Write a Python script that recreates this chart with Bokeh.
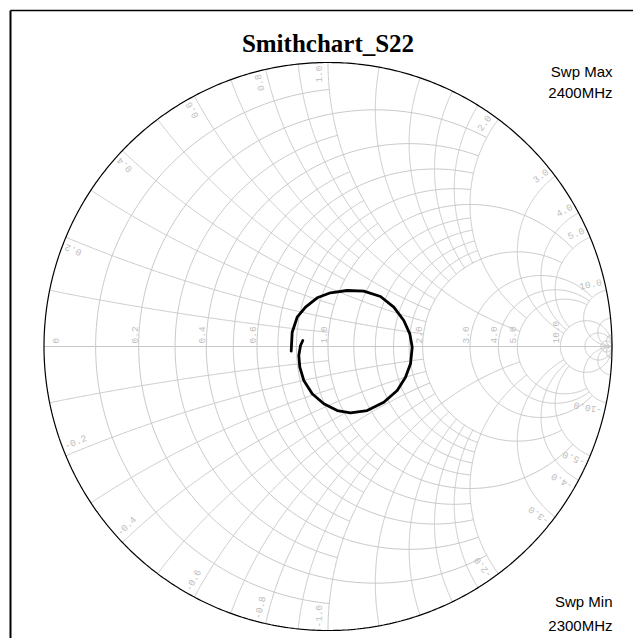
import numpy as np
from bokeh.plotting import figure
from bokeh.models import Range1d, ColumnDataSource
from bokeh.core.properties import value
from bokeh.embed import file_html
from bokeh.resources import INLINE

# ---------------- data (reflection coefficient) ----------------
title_text = "Smithchart_S22"
sweep_max = "2400MHz"
sweep_min = "2300MHz"

s22_re = [-0.1296, -0.1261, -0.1085, -0.0792, -0.0380, 0.0088, 0.0676, 0.1261, 0.1849,
          0.2317, 0.2669, 0.2880, 0.2965, 0.2905, 0.2729, 0.2437, 0.1965, 0.1380,
          0.0792, 0.0324, -0.0148, -0.0556, -0.0852, -0.0993, -0.1028, -0.0968, -0.0887]
s22_im = [-0.0165, 0.0504, 0.1032, 0.1384, 0.1715, 0.1891, 0.1972, 0.1947, 0.1761,
          0.1384, 0.0915, 0.0447, -0.0025, -0.0609, -0.1085, -0.1549, -0.1961, -0.2254,
          -0.2335, -0.2254, -0.2018, -0.1666, -0.1197, -0.0729, -0.0317, 0.0035, 0.0211]

# grid: resistance circles and reactance arcs, with their extent
r_fine = [0.1, 0.3, 0.5, 0.7, 0.9]                     # up to |x| = 1
r_medium = [0.2, 0.4, 0.6, 0.8, 1.2, 1.4, 1.6, 1.8]    # up to |x| = 2
r_major = [1.0, 2.0]                                   # up to |x| = 5
r_high = [3.0, 4.0, 5.0]                               # up to |x| = 10
r_top = [10.0, 20.0, 50.0]                             # full
x_fine = [0.1, 0.3, 0.5, 0.7, 0.9]                     # up to r = 1
x_medium = [0.2, 0.4, 0.6, 0.8, 1.2, 1.4, 1.6, 1.8]    # up to r = 2
x_major = [1.0, 2.0]                                   # up to r = 5
x_high = [3.0, 4.0, 5.0]                               # up to r = 10
x_top = [10.0, 20.0, 50.0]                             # full

axis_labels = [0.0, 0.2, 0.4, 0.6, 1.0, 2.0, 3.0, 4.0, 5.0, 10.0]
rim_labels = [0.2, 0.4, 0.6, 0.8, 1.0, 2.0, 3.0, 4.0, 5.0, 10.0]

# ---------------- layout ----------------
W, H = 633, 638
CX, CY, RAD = 327.5, 346.0, 284.0      # chart centre / radius in page pixels


def dx(px):
    return (px - CX) / RAD


def dy(py):
    return (CY - py) / RAD


p = figure(width=W, height=H, output_backend="svg", toolbar_location=None,
           x_range=Range1d(dx(0), dx(W)), y_range=Range1d(dy(H), dy(0)),
           x_axis_type=None, y_axis_type=None, min_border=0,
           background_fill_color="white", border_fill_color="white")
p.outline_line_color = None
p.xgrid.visible = False
p.ygrid.visible = False


def gamma(z):
    return (z - 1) / (z + 1)


def r_arc(r, x1, x2, n=300):
    a = np.linspace(np.arctan2(x1, r + 1), np.arctan2(x2, r + 1), n)
    a = np.clip(a, -np.pi / 2 + 1e-7, np.pi / 2 - 1e-7)
    g = gamma(r + 1j * (r + 1) * np.tan(a))
    return g.real, g.imag


def x_arc(xv, r1, r2, n=300):
    a = np.linspace(np.arctan2(xv, r1 + 1), np.arctan2(xv, r2 + 1), n)
    small = np.abs(a) < 1e-7
    a[small] = np.sign(xv) * 1e-7
    rp1 = xv / np.tan(a)
    g = gamma((rp1 - 1) + 1j * xv)
    return g.real, g.imag


xs, ys = [], []


def add(arc):
    xs.append(list(arc[0]))
    ys.append(list(arc[1]))


INF = np.inf
for r in r_fine:
    add(r_arc(r, -1.0, 1.0))
for r in r_medium:
    add(r_arc(r, -2.0, 2.0))
for r in r_major:
    add(r_arc(r, -5.0, 5.0))
for r in r_high:
    add(r_arc(r, -10.0, 10.0))
for r in r_top:
    add(r_arc(r, -INF, INF))
for xv in x_fine:
    add(x_arc(xv, 0, 1.0)); add(x_arc(-xv, 0, 1.0))
for xv in x_medium:
    add(x_arc(xv, 0, 2.0)); add(x_arc(-xv, 0, 2.0))
for xv in x_major:
    add(x_arc(xv, 0, 5.0)); add(x_arc(-xv, 0, 5.0))
for xv in x_high:
    add(x_arc(xv, 0, 10.0)); add(x_arc(-xv, 0, 10.0))
for xv in x_top:
    add(x_arc(xv, 0, INF)); add(x_arc(-xv, 0, INF))
# real axis
xs.append([-1.0, 1.0]); ys.append([0.0, 0.0])

GRID = "#c8c8c8"
LABEL = "#bdbdbd"
p.multi_line(xs, ys, line_color=GRID, line_width=1)

# outer circle
ox, oy = r_arc(0.0, -INF, INF, 600)
p.line(list(ox) + [ox[0]], list(oy) + [oy[0]], line_color="black", line_width=1.2)

# axis labels
ax_x, ax_t, ax_off = [], [], []
for v in axis_labels:
    ax_x.append(gamma(v + 0j).real)
    ax_t.append("0" if v == 0 else f"{v:.1f}")
    ax_off.append(15 if v == 0 else -1)
p.text(x=ax_x, y=[0.0] * len(ax_x), text=ax_t, angle=np.pi / 2, x_offset=ax_off, y_offset=-3,
       text_align="left", text_baseline="bottom", text_color=LABEL,
       text_font=value("Liberation Mono"), text_font_size="9.5px")

# rim labels
rx, ry, rt, ra, ral = [], [], [], [], []
delta = np.radians(1.8)
for v in rim_labels:
    for s in (1, -1):
        th = np.angle(gamma(1j * s * v))
        ph = th + s * delta
        rx.append(0.99 * np.cos(ph)); ry.append(0.99 * np.sin(ph))
        rt.append(("" if s > 0 else "-") + f"{v:.1f}")
        ra.append(th if s > 0 else th + np.pi)
        ral.append("right" if s > 0 else "left")
src = ColumnDataSource(dict(x=rx, y=ry, t=rt, a=ra, al=ral))
p.text(x="x", y="y", text="t", angle="a", text_align="al", source=src,
       text_baseline="middle", text_color=LABEL,
       text_font=value("Liberation Mono"), text_font_size="9.5px")

# S22 trace
p.line(s22_re, s22_im, line_color="black", line_width=2.8, line_join="round", line_cap="round")

# frame lines (left and top)
p.segment(x0=[dx(10), dx(10)], y0=[dy(10), dy(10)], x1=[dx(10), dx(W + 5)], y1=[dy(H + 5), dy(10)],
          line_color="black", line_width=[2, 1.5])

# texts
p.text(x=[dx(327.5)], y=[dy(43)], text=[title_text], text_align="center",
       text_baseline="alphabetic", text_font=value("Liberation Serif"),
       text_font_style="bold", text_font_size="25px", text_color="black")
p.text(x=[dx(612)] * 4, y=[dy(70.5), dy(91.5), dy(600.5), dy(624.5)],
       text=["Swp Max", sweep_max, "Swp Min", sweep_min], text_align="right",
       text_baseline="alphabetic", text_font=value("Liberation Sans"),
       text_font_size="15px", text_color="black")

open("out.html", "w").write(file_html(p, INLINE))
